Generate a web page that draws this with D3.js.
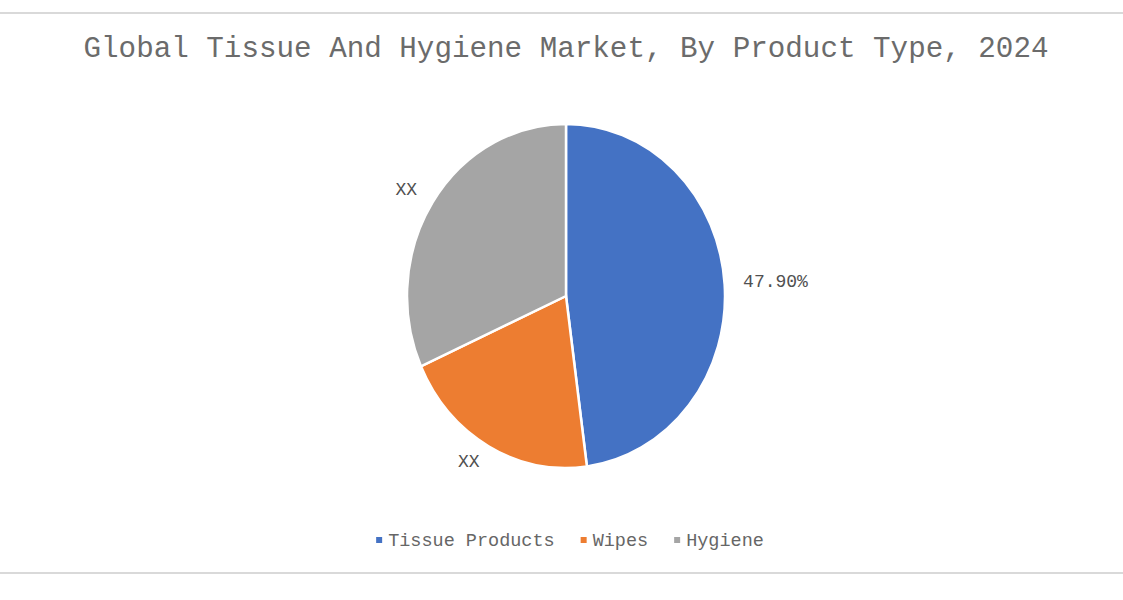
<!DOCTYPE html>
<html>
<head>
<meta charset="utf-8">
<script src="https://cdn.jsdelivr.net/npm/d3@7"></script>
<style>
  body { margin: 0; background: #fff; }
  svg { display: block; }
</style>
</head>
<body>
<svg width="1123" height="600" viewBox="0 0 1123 600"></svg>
<script>
const titleText = "Global Tissue And Hygiene Market, By Product Type, 2024";
const categories = ["Tissue Products", "Wipes", "Hygiene"];
const shares = [47.9, 20.4, 31.7];
const labels = ["47.90%", "XX", "XX"];
const colors = ["#4472C4", "#ED7D31", "#A5A5A5"];

const svg = d3.select("svg");
const width = 1123;
const font = "'Liberation Mono', 'Courier New', monospace";

// frame lines
svg.append("line").attr("x1", 0).attr("x2", width).attr("y1", 13).attr("y2", 13)
    .attr("stroke", "#d9d9d9").attr("stroke-width", 2);
svg.append("line").attr("x1", 0).attr("x2", width).attr("y1", 573).attr("y2", 573)
    .attr("stroke", "#d9d9d9").attr("stroke-width", 2);

// title
svg.append("text")
    .attr("x", 566).attr("y", 57)
    .attr("text-anchor", "middle")
    .attr("font-family", font)
    .attr("font-size", 30)
    .attr("fill", "#6b6b6b")
    .attr("textLength", 965)
    .attr("lengthAdjust", "spacingAndGlyphs")
    .text(titleText);

// pie (picture is slightly squashed horizontally)
const cx = 566, cy = 296, R = 172, sx = 159 / 172;
const data = categories.map((c, i) => ({ name: c, value: shares[i], label: labels[i], color: colors[i] }));

const pie = d3.pie().sort(null).value(d => d.value);
const arc = d3.arc().innerRadius(0).outerRadius(R);
const arcs = pie(data);

const pieG = svg.append("g").attr("transform", `translate(${cx},${cy}) scale(${sx},1)`);
pieG.selectAll("path")
    .data(arcs)
    .enter()
    .append("path")
    .attr("d", arc)
    .attr("fill", d => d.data.color)
    .attr("stroke", "#fff")
    .attr("stroke-width", 2.5)
    .attr("vector-effect", "non-scaling-stroke");

// data labels, outside end
const labelR = 192;
svg.append("g").selectAll("text")
    .data(arcs)
    .enter()
    .append("text")
    .attr("x", d => {
        const a = (d.startAngle + d.endAngle) / 2;
        return cx + Math.sin(a) * labelR * sx;
    })
    .attr("y", d => {
        const a = (d.startAngle + d.endAngle) / 2;
        return cy - Math.cos(a) * labelR;
    })
    .attr("dy", "0.2em")
    .attr("text-anchor", d => Math.sin((d.startAngle + d.endAngle) / 2) >= 0 ? "start" : "end")
    .attr("font-family", font)
    .attr("font-size", 18)
    .attr("fill", "#505050")
    .text(d => d.data.label);

// legend
const legendFont = 18.5, charW = legendFont * 0.6, box = 6, gapBox = 6, gapItem = 26;
const itemW = data.map(d => box + gapBox + d.name.length * charW);
const totalW = d3.sum(itemW) + gapItem * (data.length - 1);
let lx = 570 - totalW / 2;
const legend = svg.append("g");
data.forEach((d, i) => {
    const g = legend.append("g").attr("transform", `translate(${lx},0)`);
    g.append("rect").attr("x", 0).attr("y", 537).attr("width", box).attr("height", box).attr("fill", d.color);
    g.append("text")
        .attr("x", box + gapBox).attr("y", 546)
        .attr("font-family", font)
        .attr("font-size", legendFont)
        .attr("fill", "#666666")
        .text(d.name);
    lx += itemW[i] + gapItem;
});
</script>
</body>
</html>
